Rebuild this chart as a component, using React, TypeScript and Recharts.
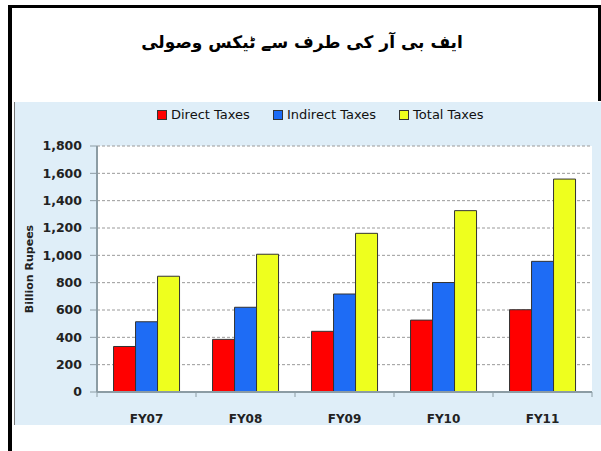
import React from 'react';
import { BarChart, Bar, XAxis, YAxis, CartesianGrid } from 'recharts';

const categories = ['FY07', 'FY08', 'FY09', 'FY10', 'FY11'];
const directTaxes = [333, 385, 444, 526, 602];
const indirectTaxes = [514, 620, 717, 801, 956];
const totalTaxes = [847, 1008, 1161, 1327, 1558];
const yTicks = [0, 200, 400, 600, 800, 1000, 1200, 1400, 1600, 1800];
const seriesNames = ['Direct Taxes', 'Indirect Taxes', 'Total Taxes'];
const seriesColors = ['#ff0000', '#1e6cf5', '#eeff1e'];
const titleText = 'ایف بی آر کی طرف سے ٹیکس وصولی';
const yAxisTitle = 'Billion Rupees';

const data = categories.map((c, i) => ({
  name: c,
  direct: directTaxes[i],
  indirect: indirectTaxes[i],
  total: totalTaxes[i],
}));

const AXIS_COLOR = '#8c9ca4';
const FONT = '"DejaVu Sans", Verdana, sans-serif';
const X_TICK_SIZE = 4;
const X_TICK_MARGIN = 18;

const XTick = (props: any) => {
  const { x, y, payload, index } = props;
  const half = payload && typeof payload.offset === 'number' ? payload.offset : 0;
  const axisY = y - X_TICK_SIZE - X_TICK_MARGIN;
  return (
    <g>
      <line x1={x - half} x2={x - half} y1={axisY} y2={axisY + 5} stroke={AXIS_COLOR} strokeWidth={1} />
      {index === categories.length - 1 && (
        <line x1={x + half} x2={x + half} y1={axisY} y2={axisY + 5} stroke={AXIS_COLOR} strokeWidth={1} />
      )}
      <text x={x} y={y} dy="0.71em" textAnchor="middle" fontFamily={FONT} fontWeight="bold" fontSize={12} fill="#222">
        {payload.value}
      </text>
    </g>
  );
};

const fmt = (v: number) => v.toLocaleString('en-US');

const YLabel = (props: any) => {
  const vb = props.viewBox || {};
  const cx = (vb.x || 0) + 14;
  const cy = (vb.y || 0) + (vb.height || 0) / 2;
  return (
    <text
      x={cx}
      y={cy}
      transform={`rotate(-90, ${cx}, ${cy})`}
      textAnchor="middle"
      dominantBaseline="central"
      fontFamily={FONT}
      fontWeight="bold"
      fontSize={11}
      fill="#222"
    >
      {yAxisTitle}
    </text>
  );
};

export default function App() {
  return (
    <div style={{ position: 'absolute', left: 0, top: 0, width: 601, height: 451, background: '#fff', overflow: 'hidden' }}>
      {/* black frame */}
      <div style={{ position: 'absolute', left: 8, top: 5, width: 593, height: 3, background: '#000' }} />
      <div style={{ position: 'absolute', left: 8, top: 5, width: 4, height: 446, background: '#000' }} />
      <div style={{ position: 'absolute', left: 598, top: 5, width: 3, height: 96, background: '#000' }} />
      {/* title */}
      <div
        style={{
          position: 'absolute',
          left: 100,
          width: 404,
          top: 27,
          textAlign: 'center',
          direction: 'rtl',
          fontFamily: FONT,
          fontWeight: 'bold',
          fontSize: 17,
          lineHeight: '30px',
          color: '#000',
        }}
      >
        {titleText}
      </div>
      {/* panel */}
      <div style={{ position: 'absolute', left: 14, top: 102, width: 1, height: 323, background: '#777' }} />
      <div style={{ position: 'absolute', left: 15, top: 102, width: 586, height: 323, background: '#dfeef8' }}>
        {/* legend */}
        <div
          style={{
            position: 'absolute',
            left: 142,
            top: 5,
            display: 'flex',
            alignItems: 'center',
            fontFamily: FONT,
            fontSize: 13,
            color: '#111',
            whiteSpace: 'nowrap',
          }}
        >
          {seriesNames.map((n, i) => (
            <div key={n} style={{ display: 'flex', alignItems: 'center', marginRight: i < seriesNames.length - 1 ? 23 : 0 }}>
              <div
                style={{
                  width: 8,
                  height: 8,
                  background: seriesColors[i],
                  border: '1px solid #333',
                  marginRight: 4,
                }}
              />
              <span>{n}</span>
            </div>
          ))}
        </div>
        <BarChart
          width={586}
          height={323}
          data={data}
          margin={{ top: 44, right: 9, bottom: 0, left: 0 }}
          barCategoryGap="16.7%"
          barGap={0}
        >
          <CartesianGrid vertical={false} stroke="#9a9a9a" strokeDasharray="3 2" fill="#ffffff" />
          <XAxis
            dataKey="name"
            height={33}
            tickLine={false}
            tickSize={X_TICK_SIZE}
            tickMargin={X_TICK_MARGIN}
            axisLine={{ stroke: AXIS_COLOR, strokeWidth: 2 }}
            tick={<XTick />}
            interval={0}
          />
          <XAxis xAxisId="top" orientation="top" dataKey="name" height={0} tick={false} tickLine={false} axisLine={{ stroke: AXIS_COLOR, strokeWidth: 2 }} />
          <YAxis
            width={82}
            domain={[0, 1800]}
            ticks={yTicks}
            interval={0}
            tickFormatter={fmt}
            tickSize={7}
            tickMargin={8}
            tickLine={{ stroke: AXIS_COLOR }}
            axisLine={{ stroke: AXIS_COLOR, strokeWidth: 2 }}
            tick={{ fontFamily: FONT, fontWeight: 'bold', fontSize: 12.5, fill: '#222' }}
            label={<YLabel />}
          />
          <YAxis yAxisId="right" orientation="right" width={0} tick={false} tickLine={false} axisLine={{ stroke: AXIS_COLOR, strokeWidth: 1.5 }} />
          <Bar dataKey="direct" name={seriesNames[0]} fill={seriesColors[0]} stroke="#333" strokeWidth={1} isAnimationActive={false} />
          <Bar dataKey="indirect" name={seriesNames[1]} fill={seriesColors[1]} stroke="#333" strokeWidth={1} isAnimationActive={false} />
          <Bar dataKey="total" name={seriesNames[2]} fill={seriesColors[2]} stroke="#333" strokeWidth={1} isAnimationActive={false} />
        </BarChart>
      </div>
    </div>
  );
}
